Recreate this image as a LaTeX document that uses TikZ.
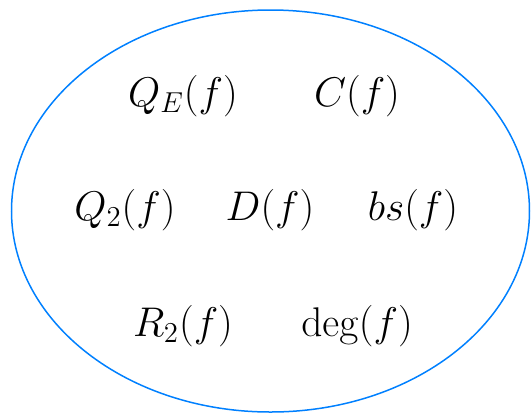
\documentclass[tikz,border=0pt]{standalone}
\usepackage{tikz}
\usetikzlibrary{positioning}
\definecolor{setblue}{RGB}{0,128,255}
\tikzset{measure/.style={font=\fontsize{21.7}{26}\selectfont, inner sep=0pt}}

\begin{document}
\begin{tikzpicture}[x=0.5pt, y=-0.5pt]

\useasboundingbox (0,0) rectangle (531,414);

% Outer set
\draw[setblue, line width=0.75pt] (270.5,211) ellipse [x radius=259, y radius=201];

% Top row
\node[measure] (qe) at (183,96) {$Q_E(f)$};
\node[measure] (cf) at (357,96) {$C(f)$};

% Middle row
\node[measure] (q2) at (125,210) {$Q_2(f)$};
\node[measure] (df) at (270,210) {$D(f)$};
\node[measure] (bs) at (413,210) {$bs(f)$};

% Bottom row
\node[measure] (r2) at (183,326) {$R_2(f)$};
\node[measure] (deg) at (357,326) {$\deg(f)$};

\end{tikzpicture}
\end{document}
